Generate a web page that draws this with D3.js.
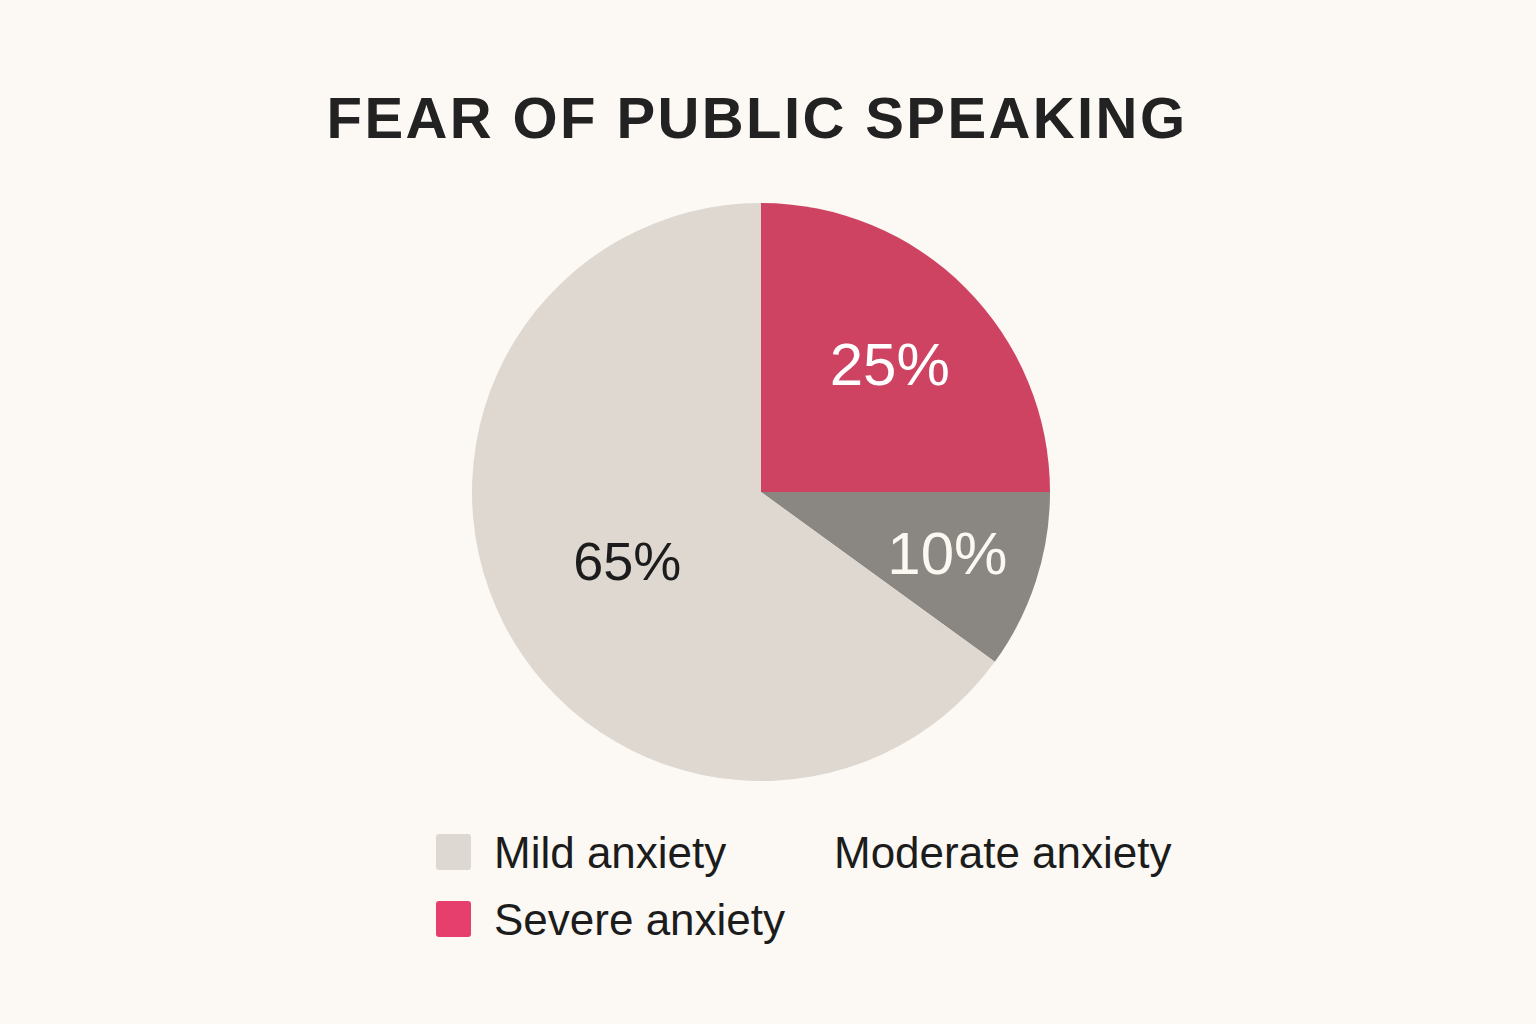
<!DOCTYPE html>
<html>
<head>
<meta charset="utf-8">
<script src="https://cdn.jsdelivr.net/npm/d3@7"></script>
<style>
  html, body { margin: 0; padding: 0; background: #fcf9f4; }
  svg { display: block; }
</style>
</head>
<body>
<div id="chart"></div>
<script>
// data
var categories = ["Severe anxiety", "Moderate anxiety", "Mild anxiety"];
var values = [25, 10, 65];
var labels = ["25%", "10%", "65%"];
var legendOrder = ["Mild anxiety", "Moderate anxiety", "Severe anxiety"];

var sliceColors = ["#cf4362", "#8a8783", "#ded8d0"];
var labelColors = ["#ffffff", "#fbf8f2", "#1c1c1c"];
var labelSizes = [60, 60, 54];
var labelRadius = [182, 196, 150];
var swatchColors = {"Mild anxiety": "#ddd8d1", "Moderate anxiety": null, "Severe anxiety": "#e63e6d"};

var width = 1536, height = 1024;
var cx = 761, cy = 492, radius = 289;

var svg = d3.select("#chart").append("svg")
  .attr("width", width)
  .attr("height", height);

svg.append("rect")
  .attr("width", width).attr("height", height)
  .attr("fill", "#fcf9f4");

svg.append("text")
  .attr("x", 757)
  .attr("y", 138)
  .attr("text-anchor", "middle")
  .style("font-family", "'Liberation Sans', Arial, sans-serif")
  .style("font-weight", "bold")
  .style("font-size", "58px")
  .style("letter-spacing", "2.4px")
  .attr("fill", "#222222")
  .text("FEAR OF PUBLIC SPEAKING");

var pie = d3.pie().sort(null).value(function(d){ return d; });
var arcs = pie(values);

var arc = d3.arc().innerRadius(0).outerRadius(radius);

var g = svg.append("g")
  .attr("transform", "translate(" + cx + "," + cy + ")");

g.selectAll("path")
  .data(arcs)
  .enter()
  .append("path")
    .attr("d", arc)
    .attr("fill", function(d, i){ return sliceColors[i]; });

g.selectAll("text.pct")
  .data(arcs)
  .enter()
  .append("text")
    .attr("class", "pct")
    .attr("transform", function(d, i){
      var la = d3.arc().innerRadius(labelRadius[i]).outerRadius(labelRadius[i]);
      return "translate(" + la.centroid(d) + ")";
    })
    .attr("text-anchor", "middle")
    .attr("dy", "0.36em")
    .style("font-family", "'Liberation Sans', Arial, sans-serif")
    .style("font-size", function(d, i){ return labelSizes[i] + "px"; })
    .attr("fill", function(d, i){ return labelColors[i]; })
    .text(function(d, i){ return labels[i]; });

// legend, two columns
var legend = svg.append("g").attr("transform", "translate(436,834)");
var item = legend.selectAll("g")
  .data(legendOrder)
  .enter()
  .append("g")
    .attr("transform", function(d, i){
      return "translate(" + (i % 2) * 340 + "," + Math.floor(i / 2) * 67 + ")";
    });

item.filter(function(d){ return swatchColors[d]; })
  .append("rect")
    .attr("width", 35).attr("height", 36)
    .attr("rx", 3)
    .attr("fill", function(d){ return swatchColors[d]; });

item.append("text")
  .attr("x", 58)
  .attr("y", 34)
  .style("font-family", "'Liberation Sans', Arial, sans-serif")
  .style("font-size", "44px")
  .attr("fill", "#1c1c1c")
  .text(function(d){ return d; });
</script>
</body>
</html>
